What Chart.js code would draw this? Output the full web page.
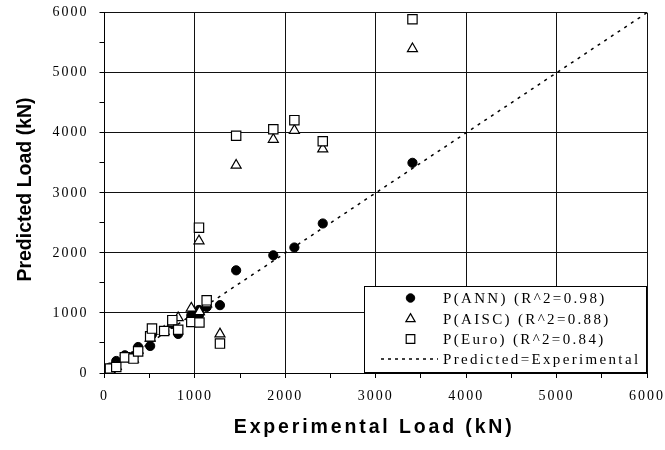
<!DOCTYPE html>
<html><head><meta charset="utf-8">
<script src="https://cdn.jsdelivr.net/npm/chart.js@4.4.1/dist/chart.umd.min.js"></script>
<style>html,body{margin:0;padding:0;background:#fff}#wrap{width:665px;height:450px}</style>
</head><body><div id="wrap"><canvas id="c" width="665" height="450"></canvas></div>
<script>
// Experimental load of each specimen (kN)
const expLoad  = [60, 130, 225, 320, 372, 505, 525, 660, 750, 815, 960, 1050, 1045, 1130, 1277, 1456, 1867, 2100, 2414, 3406];
// Predicted loads (kN)
const annPred  = [90, 200, 295, 280, 433, 450, 640, 700, 820, 650, 960, 980, 1050, 1100, 1130, 1710, 1960, 2090, 2490, 3500];
const aiscPred = [60, 110, 250, 230, 380, 580, 690, 690, 830, 920, 1080, 1020, 2200, 1150, 650, 3460, 3890, 4040, 3730, 5400];
const euroPred = [75, 100, 260, 240, 360, 610, 740, 700, 880, 720, 850, 840, 2420, 1210, 490, 3950, 4060, 4210, 3860, 5890];
// Line of equality
const equalityLine = [0, 6000];
const axisMin = 0, axisMax = 6000, majorStep = 1000, minorStep = 500;
const legendLabels = ['P(ANN) (R^2=0.98)', 'P(AISC) (R^2=0.88)', 'P(Euro) (R^2=0.84)', 'Predicted=Experimental'];
const xTitle = 'Experimental Load (kN)';
const yTitle = 'Predicted Load (kN)';

const pts = ys => expLoad.map((x, i) => ({x: x, y: ys[i]}));
const serif = '"Liberation Serif", "Times New Roman", serif';
const sans = '"Liberation Sans", Arial, sans-serif';

const styles = [
  {pointStyle: 'circle',   pointRadius: 4.6, backgroundColor: '#000', borderColor: '#000', borderWidth: 1},
  {pointStyle: 'triangle', pointRadius: 5.8, backgroundColor: '#fff', borderColor: '#000', borderWidth: 1.2},
  {pointStyle: 'rect',     pointRadius: 6.6, backgroundColor: '#fff', borderColor: '#000', borderWidth: 1.2}
];

const decor = {
  id: 'decor',
  beforeDraw(chart) {
    const ctx = chart.ctx;
    ctx.save();
    ctx.fillStyle = '#fff';
    ctx.fillRect(0, 0, chart.width, chart.height);
    ctx.restore();
    ctx.letterSpacing = '2px';
  },
  afterDraw(chart) {
    const ctx = chart.ctx, a = chart.chartArea;
    ctx.save();
    ctx.fillStyle = '#000';
    ctx.strokeStyle = '#000';
    // X title
    ctx.font = 'bold 19.5px ' + sans;
    ctx.letterSpacing = '0px';
    let w = ctx.measureText(xTitle).width;
    let sp = Math.max(0, (278 - w) / (xTitle.length - 1));
    ctx.letterSpacing = sp.toFixed(2) + 'px';
    ctx.textAlign = 'left';
    ctx.textBaseline = 'alphabetic';
    ctx.fillText(xTitle, (a.left + a.right) / 2 - 142, 433);
    // Y title
    ctx.letterSpacing = '0px';
    ctx.save();
    ctx.translate(30.5, 189.5);
    ctx.rotate(-Math.PI / 2);
    ctx.textAlign = 'center';
    ctx.fillText(yTitle, 0, 0);
    ctx.restore();
    // Legend box
    const lx = 364, lt = 286, lr = a.right, lb = a.bottom - 1;
    ctx.fillStyle = '#fff';
    ctx.fillRect(lx, lt, lr - lx, lb - lt);
    ctx.lineWidth = 1;
    ctx.strokeRect(lx + 0.5, lt + 0.5, lr - lx - 1, lb - lt);
    ctx.fillStyle = '#000';
    ctx.font = '15px ' + serif;
    ctx.letterSpacing = '0px';
    const refW = ctx.measureText(legendLabels[3]).width;
    const lsp = Math.max(0, (195 - refW) / (legendLabels[3].length - 1));
    ctx.letterSpacing = lsp.toFixed(2) + 'px';
    ctx.textAlign = 'left';
    ctx.textBaseline = 'middle';
    const rows = [298, 319, 339, 359];
    for (let i = 0; i < 4; i++) {
      const y = rows[i];
      if (i < 3) {
        const s = styles[i];
        ctx.save();
        ctx.fillStyle = s.backgroundColor;
        ctx.strokeStyle = s.borderColor;
        ctx.lineWidth = s.borderWidth;
        Chart.helpers.drawPoint(ctx, {pointStyle: s.pointStyle, radius: s.pointRadius * 0.92, borderWidth: s.borderWidth}, 410.5, y);
        ctx.restore();
      } else {
        ctx.save();
        ctx.setLineDash([3, 4]);
        ctx.lineWidth = 1.5;
        ctx.beginPath();
        ctx.moveTo(381, y);
        ctx.lineTo(438, y);
        ctx.stroke();
        ctx.restore();
      }
      ctx.fillText(legendLabels[i], 443, y + 1);
    }
    ctx.restore();
  }
};

function axisOpts(isX) {
  return {
    type: 'linear', min: axisMin, max: axisMax,
    ticks: {
      stepSize: minorStep, autoSkip: false, maxRotation: 0, color: '#000',
      font: {family: serif, size: 14}, padding: isX ? 10 : 11,
      callback: v => (v % majorStep === 0 ? String(v) : '')
    },
    grid: {
      color: c => (c.tick && c.tick.value % majorStep === 0 ? '#111' : 'rgba(0,0,0,0)'),
      tickColor: '#000', tickLength: 5, lineWidth: 1, drawTicks: true
    },
    border: {color: '#000', width: 1},
    afterFit: s => {
      if (isX) { s.height = 77; s.paddingLeft = 0; s.paddingRight = 0; }
      else { s.width = 104.5; s.paddingTop = 0; s.paddingBottom = 0; }
    }
  };
}

new Chart(document.getElementById('c').getContext('2d'), {
  type: 'scatter',
  data: {
    datasets: [
      Object.assign({label: legendLabels[0], data: pts(annPred), order: 3}, styles[0]),
      Object.assign({label: legendLabels[1], data: pts(aiscPred), order: 2}, styles[1]),
      Object.assign({label: legendLabels[2], data: pts(euroPred), order: 1}, styles[2]),
      {type: 'line', label: legendLabels[3], data: equalityLine.map(v => ({x: v, y: v})),
       borderColor: '#000', borderWidth: 1.5, borderDash: [3, 5], pointRadius: 0, fill: false, order: 4}
    ]
  },
  options: {
    responsive: false, animation: false, devicePixelRatio: 1,
    layout: {padding: {top: 12.7, right: 18, left: 0, bottom: 0}},
    plugins: {legend: {display: false}, tooltip: {enabled: false}},
    scales: {x: axisOpts(true), y: axisOpts(false)}
  },
  plugins: [decor]
});
</script>
</body></html>
